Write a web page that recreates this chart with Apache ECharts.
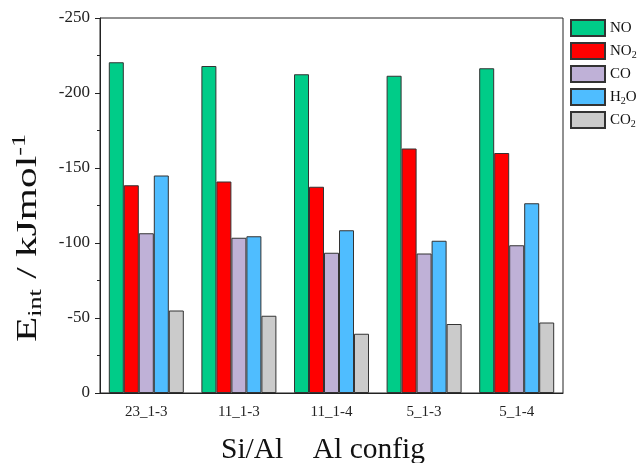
<!DOCTYPE html>
<html><head><meta charset="utf-8">
<script src="https://cdn.jsdelivr.net/npm/echarts@6/dist/echarts.min.js"></script>
<style>html,body{margin:0;padding:0;background:#fff}#c{width:639px;height:463px}</style>
</head><body><div id="c"></div>
<script>
var categories = ['23_1-3', '11_1-3', '11_1-4', '5_1-3', '5_1-4'];
var seriesNames = ['NO', 'NO2', 'CO', 'H2O', 'CO2'];
var NO  = [-220.5, -218, -212.5, -211.5, -216.5];
var NO2 = [-138.5, -141, -137.5, -163, -160];
var CO  = [-106.5, -103.5, -93.5, -93, -98.5];
var H2O = [-145, -104.5, -108.5, -101.5, -126.5];
var CO2 = [-55, -51.5, -39.5, -46, -47];
var yTicks = [-250, -200, -150, -100, -50, 0];

var colors = ['#00CC88', '#FF0000', '#BFB1D7', '#4FBDFF', '#CBCBCB'];
var values = [NO, NO2, CO, H2O, CO2];
var serif = '"Liberation Serif", "Times New Roman", serif';
var legendLabels = {
  'NO': '{a|NO}',
  'NO2': '{a|NO}{s|2}',
  'CO': '{a|CO}',
  'H2O': '{a|H}{s|2}{a|O}',
  'CO2': '{a|CO}{s|2}'
};

var chart = echarts.init(document.getElementById('c'), null, {renderer: 'canvas'});
var series = seriesNames.map(function (n, i) {
  return {
    name: n, type: 'bar', data: values[i], barWidth: 15, barGap: '0%',
    xAxisIndex: 0,
    itemStyle: {color: colors[i], borderColor: '#333', borderWidth: 1}
  };
});

chart.setOption({
  animation: false,
  backgroundColor: '#fff',
  grid: {left: 100, right: 76, top: 18, bottom: 70, show: true, borderColor: '#222', borderWidth: 1, backgroundColor: 'transparent'},
  legend: {
    orient: 'vertical', left: 570, top: 19, padding: 0, itemWidth: 34, itemHeight: 16, itemGap: 5,
    icon: 'rect', data: seriesNames,
    formatter: function (n) { return legendLabels[n]; },
    textStyle: {
      fontFamily: serif, color: '#111',
      rich: {
        a: {fontFamily: serif, fontSize: 15, color: '#111'},
        s: {fontFamily: serif, fontSize: 10, color: '#111', verticalAlign: 'top', padding: [8, 0, 0, 0]}
      }
    }
  },
  xAxis: [{
    type: 'category', data: categories, position: 'bottom',
    axisLine: {lineStyle: {color: '#222', width: 1}},
    axisTick: {alignWithLabel: true, length: 6, lineStyle: {color: '#222'}},
    axisLabel: {fontFamily: serif, fontSize: 15, color: '#222', margin: 12}
  }, {
    type: 'category', data: categories, position: 'bottom',
    axisLine: {show: false},
    axisTick: {alignWithLabel: false, length: 4, lineStyle: {color: '#222'}},
    axisLabel: {show: false}
  }],
  yAxis: {
    type: 'value', inverse: true, min: -250, max: 0, interval: 50,
    axisLine: {show: true, lineStyle: {color: '#222'}},
    axisTick: {show: true, length: 5, lineStyle: {color: '#222'}},
    minorTick: {show: true, splitNumber: 2, length: 3, lineStyle: {color: '#222'}},
    splitLine: {show: false},
    axisLabel: {fontFamily: serif, fontSize: 17, color: '#222', margin: 10,
      formatter: function (v) { return yTicks.indexOf(v) >= 0 ? String(v) : ''; }}
  },
  graphic: [{
    type: 'text', x: 28, y: 238, rotation: Math.PI / 2, scaleX: 1.38, scaleY: 1,
    style: {
      text: '{m|E}{sub|int}{m| / kJmol}{sup|-1}',
      textAlign: 'center', textVerticalAlign: 'middle',
      rich: {
        m: {fontFamily: serif, fontSize: 30, fill: '#111'},
        sub: {fontFamily: serif, fontSize: 19, fill: '#111', verticalAlign: 'top', padding: [16, 0, 0, 0]},
        sup: {fontFamily: serif, fontSize: 19, fill: '#111', verticalAlign: 'bottom', padding: [0, 0, 16, 0]}
      }
    }
  }, {
    type: 'text', x: 323, y: 450,
    style: {
      text: 'Si/Al    Al config', fontFamily: serif, fontSize: 29.5, fill: '#111',
      textAlign: 'center', textVerticalAlign: 'middle'
    }
  }],
  series: series
});
</script></body></html>
